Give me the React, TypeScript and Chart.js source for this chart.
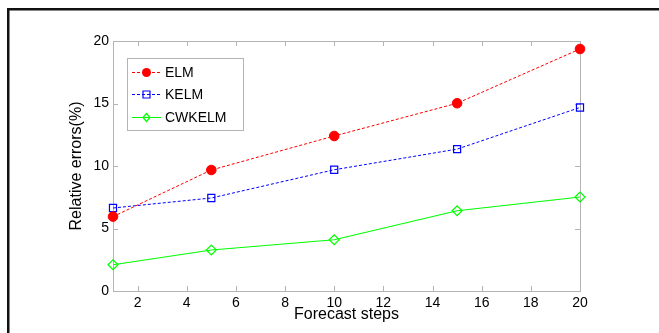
import React, { useEffect, useRef } from "react";
import { Chart, registerables } from "chart.js";

Chart.register(...registerables);

const steps = [1, 5, 10, 15, 20];
const elm = [5.95, 9.68, 12.4, 15.02, 19.36];
const kelm = [6.64, 7.44, 9.7, 11.35, 14.68];
const cwkelm = [2.1, 3.28, 4.1, 6.42, 7.52];
const xTicks = [2, 4, 6, 8, 10, 12, 14, 16, 18, 20];
const yTicks = [0, 5, 10, 15, 20];

const FONT = "Arial, 'Liberation Sans', sans-serif";

function drawMarker(ctx: CanvasRenderingContext2D, style: string, x: number, y: number, color: string) {
  ctx.save();
  ctx.strokeStyle = color;
  ctx.fillStyle = color;
  ctx.lineWidth = 1.2;
  ctx.setLineDash([]);
  ctx.beginPath();
  if (style === "circle") {
    ctx.arc(x, y, 4.5, 0, Math.PI * 2);
    ctx.fill();
  } else if (style === "rect") {
    ctx.rect(x - 3.5, y - 3.5, 7, 7);
    ctx.stroke();
  } else {
    ctx.moveTo(x, y - 4);
    ctx.lineTo(x + 3.5, y);
    ctx.lineTo(x, y + 4);
    ctx.lineTo(x - 3.5, y);
    ctx.closePath();
    ctx.stroke();
  }
  ctx.restore();
}

const framePlugin = {
  id: "frameAndBox",
  beforeDraw(chart: any) {
    const ctx = chart.ctx;
    ctx.save();
    ctx.fillStyle = "#ffffff";
    ctx.fillRect(0, 0, chart.width, chart.height);
    ctx.fillStyle = "#111111";
    ctx.fillRect(7, 8, chart.width - 7, 2.5);
    ctx.fillRect(7, 8, 2.5, chart.height - 8);
    ctx.restore();
  },
  beforeDatasetsDraw(chart: any) {
    const ctx = chart.ctx;
    const { left, right, top, bottom } = chart.chartArea;
    const xs = chart.scales.x;
    const ys = chart.scales.y;
    ctx.save();
    ctx.strokeStyle = "#b4b4b4";
    ctx.lineWidth = 1;
    ctx.strokeRect(Math.round(left) + 0.5, Math.round(top) + 0.5, Math.round(right - left), Math.round(bottom - top));
    ctx.beginPath();
    const tl = 5;
    xTicks.forEach((v) => {
      const px = Math.round(xs.getPixelForValue(v)) + 0.5;
      ctx.moveTo(px, bottom);
      ctx.lineTo(px, bottom - tl);
      ctx.moveTo(px, top);
      ctx.lineTo(px, top + tl);
    });
    yTicks.forEach((v) => {
      const py = Math.round(ys.getPixelForValue(v)) + 0.5;
      ctx.moveTo(left, py);
      ctx.lineTo(left + tl, py);
      ctx.moveTo(right, py);
      ctx.lineTo(right - tl, py);
    });
    ctx.stroke();
    ctx.restore();
  },
  afterDatasetsDraw(chart: any) {
    const ctx = chart.ctx;
    const bx = 127, by = 58, bw = 116, bh = 72;
    ctx.save();
    ctx.fillStyle = "#ffffff";
    ctx.fillRect(bx, by, bw, bh);
    ctx.strokeStyle = "#b4b4b4";
    ctx.lineWidth = 1;
    ctx.strokeRect(bx + 0.5, by + 0.5, bw, bh);
    const rows = [72, 94, 117];
    chart.data.datasets.forEach((ds: any, i: number) => {
      const y = rows[i];
      ctx.save();
      ctx.strokeStyle = ds.borderColor;
      ctx.lineWidth = 1;
      ctx.setLineDash(ds.borderDash || []);
      ctx.beginPath();
      ctx.moveTo(132, y + 0.5);
      ctx.lineTo(161, y + 0.5);
      ctx.stroke();
      ctx.restore();
      drawMarker(ctx, ds.pointStyle, 146.5, y + 0.5, ds.borderColor);
      ctx.fillStyle = "#000000";
      ctx.font = "14px " + FONT;
      ctx.textBaseline = "middle";
      ctx.textAlign = "left";
      ctx.fillText(ds.label, 165, y + 1);
    });
    ctx.restore();
  },
};

export default function App() {
  const ref = useRef<HTMLCanvasElement | null>(null);
  useEffect(() => {
    if (!ref.current) return;
    const chart = new Chart(ref.current, {
      type: "line",
      data: {
        datasets: [
          {
            label: "ELM",
            data: steps.map((x, i) => ({ x, y: elm[i] })),
            borderColor: "#ff0000",
            backgroundColor: "#ff0000",
            borderWidth: 1,
            borderDash: [3, 2],
            pointStyle: "circle",
            pointRadius: 4.8,
            pointBorderWidth: 1,
            clip: false as any,
          },
          {
            label: "KELM",
            data: steps.map((x, i) => ({ x, y: kelm[i] })),
            borderColor: "#0000ff",
            backgroundColor: "rgba(0,0,0,0)",
            borderWidth: 1,
            borderDash: [3, 2],
            pointStyle: "rect",
            pointRadius: 5,
            pointBorderWidth: 1.2,
            clip: false as any,
          },
          {
            label: "CWKELM",
            data: steps.map((x, i) => ({ x, y: cwkelm[i] })),
            borderColor: "#00ff00",
            backgroundColor: "rgba(0,0,0,0)",
            borderWidth: 1.2,
            pointStyle: "rectRot",
            pointRadius: 5,
            pointBorderWidth: 1.2,
            clip: false as any,
          },
        ],
      },
      options: {
        animation: false,
        responsive: false,
        maintainAspectRatio: false,
        layout: { padding: { left: 63, top: 41, right: 79, bottom: 5 } },
        plugins: { legend: { display: false }, tooltip: { enabled: false } },
        scales: {
          x: {
            type: "linear",
            min: 1,
            max: 20,
            grid: { display: false, drawTicks: false },
            border: { display: false },
            afterBuildTicks: (s: any) => {
              s.ticks = xTicks.map((v) => ({ value: v }));
            },
            afterFit: (s: any) => {
              s.height = 37;
            },
            ticks: {
              autoSkip: false,
              maxRotation: 0,
              padding: 4,
              color: "#000000",
              font: { family: FONT, size: 14 },
            },
            title: {
              display: true,
              text: "Forecast steps",
              color: "#000000",
              font: { family: FONT, size: 16 },
              padding: { top: 0, bottom: 4 },
            },
          },
          y: {
            type: "linear",
            min: 0,
            max: 20,
            grid: { display: false, drawTicks: false },
            border: { display: false },
            afterBuildTicks: (s: any) => {
              s.ticks = yTicks.map((v) => ({ value: v }));
            },
            afterFit: (s: any) => {
              s.width = 50;
            },
            ticks: {
              padding: 4,
              color: "#000000",
              font: { family: FONT, size: 14 },
            },
            title: {
              display: true,
              text: "Relative errors(%)",
              color: "#000000",
              font: { family: FONT, size: 16 },
              padding: { top: 4, bottom: 0 },
            },
          },
        },
      },
      plugins: [framePlugin],
    });
    return () => chart.destroy();
  }, []);
  return (
    <div style={{ position: "fixed", left: 0, top: 0, width: 659, height: 333, background: "#fff" }}>
      <canvas ref={ref} width={659} height={333} style={{ display: "block", width: 659, height: 333 }} />
    </div>
  );
}
